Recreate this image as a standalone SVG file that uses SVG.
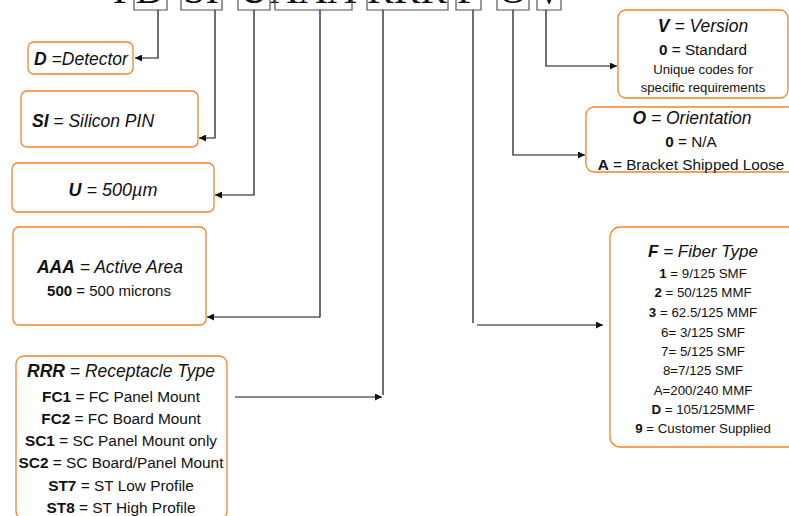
<svg xmlns="http://www.w3.org/2000/svg" width="789" height="516" viewBox="0 0 789 516">
<defs>
<marker id="ah" viewBox="0 0 10 10" refX="10" refY="5" markerWidth="9" markerHeight="7" markerUnits="userSpaceOnUse" orient="auto">
<path d="M0,0 L10,5 L0,10 z" fill="#111"/>
</marker>
</defs>
<style>
.box{fill:#fff;stroke:#F5832B;stroke-width:1.3}
.t{font-family:"Liberation Sans",Arial,sans-serif;fill:#111;text-anchor:middle}
.h{font-size:17.5px;font-style:italic}
.b{font-weight:bold}
.code{font-family:"Liberation Serif","Times New Roman",serif;font-size:40px;fill:#111;text-anchor:middle}
.br{fill:none;stroke:#555;stroke-width:1.2}
.c{fill:none;stroke:#111;stroke-width:1.2}
</style>
<rect width="789" height="516" fill="#fff"/>
<g id="partcode">
<text class="code" x="124" y="3">P</text>
<text class="code" x="150" y="3">D</text>
<text class="code" x="201" y="3">SI</text>
<text class="code" x="254" y="3">U</text>
<text class="code" x="313" y="3">AAA</text>
<text class="code" x="407" y="3">RRR</text>
<text class="code" x="468" y="3">F</text>
<text class="code" x="513" y="3">O</text>
<text class="code" x="549" y="3">V</text>
<path class="br" d="M134,0 V10 H167 V0 M181,0 V10 H222 V0 M238,0 V10 H270 V0 M275,0 V10 H352 V0 M367,0 V10 H448 V0 M456,0 V10 H481 V0 M497,0 V10 H529 V0 M537,0 V10 H561 V0"/>
</g>
<g id="connectors">
<path class="c" d="M158,10 V58 H135" marker-end="url(#ah)"/>
<path class="c" d="M215,10 V138 H199" marker-end="url(#ah)"/>
<path class="c" d="M254,10 V195 H215" marker-end="url(#ah)"/>
<path class="c" d="M320,10 V317 H207" marker-end="url(#ah)"/>
<path class="c" d="M383,10 V395"/>
<path class="c" d="M235,397 H382" marker-end="url(#ah)"/>
<path class="c" d="M473,10 V323"/>
<path class="c" d="M477,325 H603" marker-end="url(#ah)"/>
<path class="c" d="M513,10 V155 H585" marker-end="url(#ah)"/>
<path class="c" d="M546,10 V66 H617" marker-end="url(#ah)"/>
</g>
<g id="node-d">
<rect class="box" x="28" y="42" width="105" height="32" rx="6"/>
<text class="t h" x="81" y="65"><tspan class="b">D</tspan> =Detector</text>
</g>
<g id="node-si">
<rect class="box" x="21" y="91" width="177" height="56" rx="6"/>
<text class="t h" x="93" y="127"><tspan class="b">SI</tspan> = Silicon PIN</text>
</g>
<g id="node-u">
<rect class="box" x="12" y="163" width="202" height="49" rx="6"/>
<text class="t h" x="113" y="196" style="font-size:18px"><tspan class="b">U</tspan> = 500µm</text>
</g>
<g id="node-aaa">
<rect class="box" x="13" y="227" width="193" height="98" rx="6"/>
<text class="t h" x="110" y="273"><tspan class="b">AAA</tspan> = Active Area</text>
<text class="t" x="109" y="296" style="font-size:15px"><tspan class="b">500</tspan> = 500 microns</text>
</g>
<g id="node-rrr">
<rect class="box" x="16" y="356" width="211" height="163" rx="8"/>
<text class="t h" x="121" y="377"><tspan class="b">RRR</tspan> = Receptacle Type</text>
<g class="t" style="font-size:15.4px">
<text x="121" y="402"><tspan class="b">FC1</tspan> = FC Panel Mount</text>
<text x="121" y="424"><tspan class="b">FC2</tspan> = FC Board Mount</text>
<text x="121" y="446"><tspan class="b">SC1</tspan> = SC Panel Mount only</text>
<text x="121" y="468"><tspan class="b">SC2</tspan> = SC Board/Panel Mount</text>
<text x="121" y="491"><tspan class="b">ST7</tspan> = ST Low Profile</text>
<text x="121" y="513"><tspan class="b">ST8</tspan> = ST High Profile</text>
</g>
</g>
<g id="node-v">
<rect class="box" x="618" y="10" width="170" height="88" rx="8"/>
<text class="t h" x="703" y="32"><tspan class="b">V</tspan> = Version</text>
<text class="t" x="703" y="55" style="font-size:15.3px"><tspan class="b">0</tspan> = Standard</text>
<text class="t" x="703" y="74" style="font-size:13.2px">Unique codes for</text>
<text class="t" x="703" y="92" style="font-size:13.2px">specific requirements</text>
</g>
<g id="node-o">
<rect class="box" x="586" y="107" width="210" height="65" rx="8"/>
<text class="t h" x="692" y="124"><tspan class="b">O</tspan> = Orientation</text>
<text class="t" x="691" y="147" style="font-size:15.3px"><tspan class="b">0</tspan> = N/A</text>
<text class="t" x="691" y="170" style="font-size:15.3px"><tspan class="b">A</tspan> = Bracket Shipped Loose</text>
</g>
<g id="node-f">
<rect class="box" x="610" y="227" width="190" height="220" rx="10"/>
<text class="t h" x="703" y="257" style="font-size:17px"><tspan class="b">F</tspan> = Fiber Type</text>
<g class="t" style="font-size:13.3px">
<text x="703" y="278"><tspan class="b">1</tspan> = 9/125 SMF</text>
<text x="703" y="297"><tspan class="b">2</tspan> = 50/125 MMF</text>
<text x="703" y="317"><tspan class="b">3</tspan> = 62.5/125 MMF</text>
<text x="703" y="337">6= 3/125 SMF</text>
<text x="703" y="356">7= 5/125 SMF</text>
<text x="703" y="375">8=7/125 SMF</text>
<text x="703" y="395">A=200/240 MMF</text>
<text x="703" y="414"><tspan class="b">D</tspan> = 105/125MMF</text>
<text x="703" y="433"><tspan class="b">9</tspan> = Customer Supplied</text>
</g>
</g>
</svg>
